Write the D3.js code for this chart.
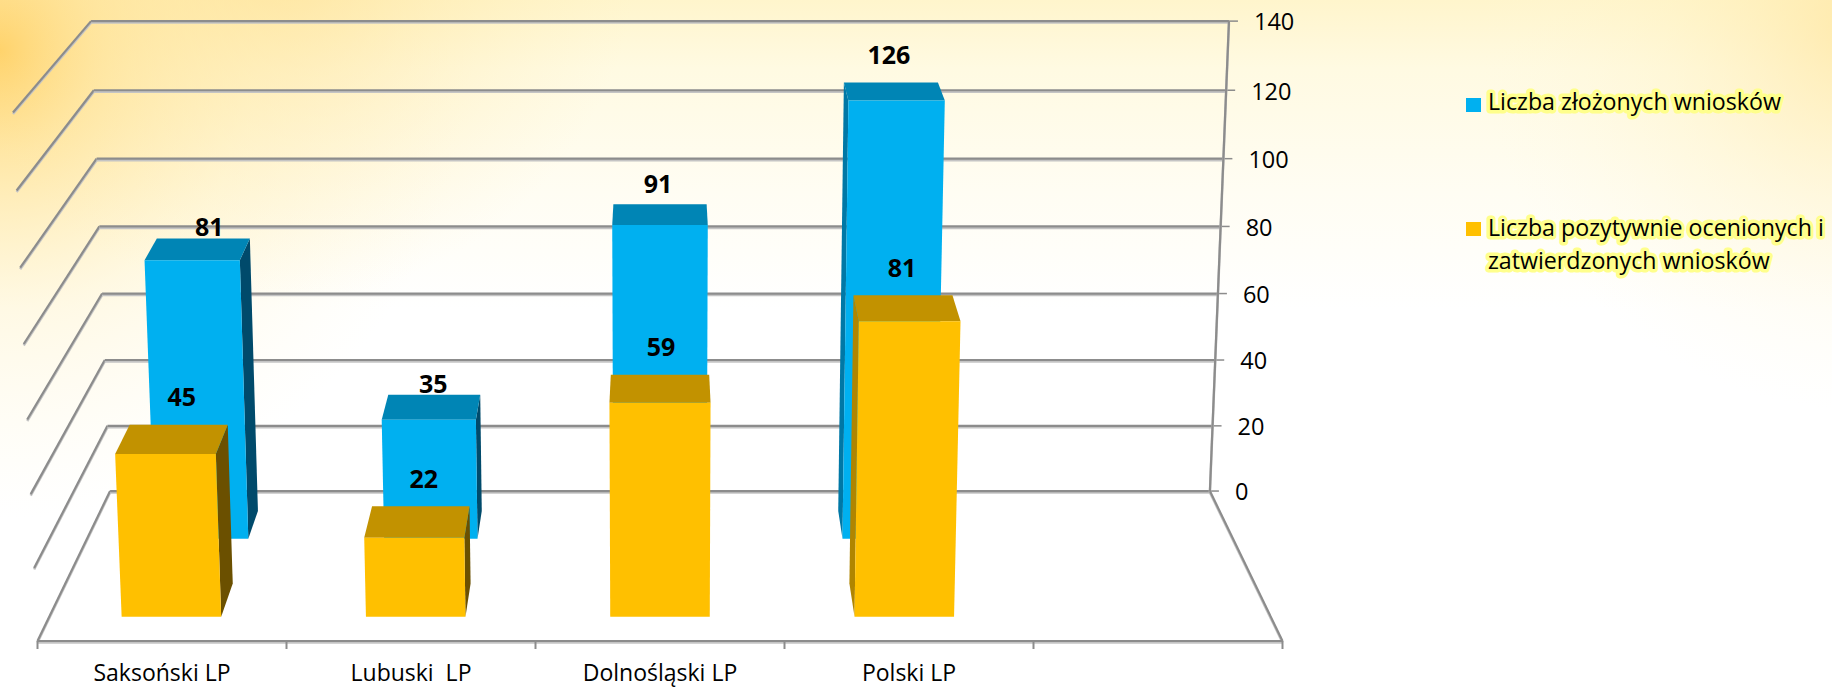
<!DOCTYPE html>
<html lang="pl">
<head>
<meta charset="utf-8">
<script src="https://cdnjs.cloudflare.com/ajax/libs/d3/7.8.5/d3.min.js"></script>
<style>
html,body{margin:0;padding:0;background:#fff;overflow:hidden}
svg{display:block}
text{font-family:"Open Sans",Lato,sans-serif;fill:#000;white-space:pre}
</style>
</head>
<body>
<svg id="c" width="1832" height="688"></svg>
<script>
// ---- data ----
const categories = ["Saksoński LP", "Lubuski  LP", "Dolnośląski LP", "Polski LP"];
const blankSlot = " ";
const submitted = [81, 35, 91, 126];
const approved = [45, 22, 59, 81];
const valueTicks = [0, 20, 40, 60, 80, 100, 120, 140];
const legendSubmitted = ["Liczba złożonych wniosków"];
const legendApproved = ["Liczba pozytywnie ocenionych i", "zatwierdzonych wniosków"];

// ---- projection: slots across (u), value up (t), depth back (d) ----
const W = 1832, H = 688;
const uScale = d3.scaleBand().domain([...categories, blankSlot]).range([-1, 1]);
const tScale = d3.scaleLinear().domain([0, 140]).range([0, 1]);
const cx = 660, vanishY = -645, halfFront = 622.5, floorDrop = 1286, topRise = 557.2;
function project(u, value, d) {
  const t = tScale(value);
  const w = 1 + 0.132 * d - 0.0379 * t;
  return [cx + halfFront * u / w, vanishY + (floorDrop - topRise * t) / w];
}
const barHalf = uScale.bandwidth() * 0.2037;
const rows = {
  submitted: { front: 0.655, back: 0.852, face: "#00B0F0", top: "#0085B5", dark: "#004A6B", lit: "#0078A6" },
  approved: { front: 0.146, back: 0.355, face: "#FFC000", top: "#C29200", dark: "#6B5000", lit: "#B08500" }
};
// hand-placed label shifts, as in the original chart
const nudgeSubmitted = [[6, -9], [-1, -8], [-2, -18], [-2, -25]];
const nudgeApproved = [[3, -25], [3, -25], [1, -25], [-1, -25]];

const svg = d3.select("#c");
const defs = svg.append("defs");
function radial(id, fx, fy, r, stops) {
  const g = defs.append("radialGradient").attr("id", id).attr("gradientUnits", "userSpaceOnUse")
    .attr("cx", fx).attr("cy", fy).attr("r", r);
  stops.forEach(s => g.append("stop").attr("offset", s[0]).attr("stop-color", s[1]).attr("stop-opacity", s[2]));
}
const lin = defs.append("linearGradient").attr("id", "bgTop").attr("x1", 0).attr("y1", 0).attr("x2", 0).attr("y2", 1);
[[0, "#FFF5CC", 1], [0.1, "#FFFAE2", 1], [0.28, "#FFFDF3", 1], [0.45, "#FFFFFF", 1], [1, "#FFFFFF", 1]]
  .forEach(s => lin.append("stop").attr("offset", s[0]).attr("stop-color", s[1]).attr("stop-opacity", s[2]));
radial("bgLeft", 0, 50, 470, [[0, "#FFD064", 1], [0.22, "#FFE08E", 0.75], [0.55, "#FFF0BC", 0.4], [1, "#FFF8DC", 0]]);
radial("bgTop2", 280, -60, 360, [[0, "#FFDC84", 0.65], [1, "#FFEEB5", 0]]);
radial("bgRight", 1860, 30, 380, [[0, "#FFE49A", 0.7], [0.5, "#FFF1C0", 0.35], [1, "#FFF8DC", 0]]);
["bgTop", "bgLeft", "bgTop2", "bgRight"].forEach(id =>
  svg.append("rect").attr("width", W).attr("height", H).attr("fill", `url(#${id})`));

const line = d3.line();
function stroke(g, pts, color, width) {
  g.append("path").attr("d", line(pts)).attr("fill", "none").attr("stroke", color).attr("stroke-width", width);
}
function greyLine(g, a, b) {
  stroke(g, [[a[0], a[1] + 1.5], [b[0], b[1] + 1.5]], "#C4C4C4", 2.5);
  stroke(g, [a, b], "#8C8C8C", 2.2);
}

// walls and floor
const grid = svg.append("g");
valueTicks.forEach(v => {
  const bl = project(-1, v, 1), br = project(1, v, 1), fl = project(-1, v, 0);
  greyLine(grid, fl, bl);
  greyLine(grid, bl, br);
  stroke(grid, [br, [br[0] + 9, br[1]]], "#8C8C8C", 1.5);
  grid.append("text").attr("x", br[0] + 25).attr("y", br[1] + 3)
    .attr("dominant-baseline", "middle").attr("font-size", 23.5).text(v);
});
greyLine(grid, project(1, 0, 1), project(1, 140, 1));
greyLine(grid, project(1, 0, 1), project(1, 0, 0));
greyLine(grid, project(-1, 0, 0), project(1, 0, 0));
[...categories, blankSlot].forEach(c => {
  const u = uScale(c);
  const p = project(u, 0, 0);
  stroke(grid, [p, [p[0], p[1] + 8]], "#8C8C8C", 2);
  if (c === blankSlot) { const e = project(1, 0, 0); stroke(grid, [e, [e[0], e[1] + 8]], "#8C8C8C", 2); return; }
  const m = project(u + uScale.bandwidth() / 2, 0, 0);
  grid.append("text").attr("x", m[0]).attr("y", 675).attr("text-anchor", "middle")
    .attr("dominant-baseline", "middle").attr("font-size", 23).text(c);
});

// bars, back row first
function drawRow(values, row) {
  const g = svg.append("g");
  values.forEach((v, i) => {
    const mid = uScale(categories[i]) + uScale.bandwidth() / 2;
    const l = mid - barHalf, r = mid + barHalf;
    const P = (u, val, d) => project(u, val, d);
    const poly = (pts, fill) => g.append("polygon").attr("points", pts.map(p => p.join(",")).join(" "))
      .attr("fill", fill);
    // the side that faces the viewer
    if (P(r, 0, row.back)[0] > P(r, 0, row.front)[0] + 1)
      poly([P(r, v, row.front), P(r, v, row.back), P(r, 0, row.back), P(r, 0, row.front)], row.dark);
    if (P(l, 0, row.back)[0] < P(l, 0, row.front)[0] - 1)
      poly([P(l, v, row.front), P(l, v, row.back), P(l, 0, row.back), P(l, 0, row.front)], row.lit);
    poly([P(l, v, row.front), P(l, v, row.back), P(r, v, row.back), P(r, v, row.front)], row.top);
    poly([P(l, v, row.front), P(r, v, row.front), P(r, 0, row.front), P(l, 0, row.front)], row.face);
  });
}
drawRow(submitted, rows.submitted);
drawRow(approved, rows.approved);

// value labels
function drawLabels(values, row, nudges) {
  values.forEach((v, i) => {
    const mid = uScale(categories[i]) + uScale.bandwidth() / 2;
    const p = project(mid, v, row.back);
    svg.append("text").attr("x", p[0] + nudges[i][0]).attr("y", p[1] + nudges[i][1])
      .attr("text-anchor", "middle").attr("dominant-baseline", "middle")
      .attr("font-size", 25).attr("font-weight", 700).text(v);
  });
}
drawLabels(submitted, rows.submitted, nudgeSubmitted);
drawLabels(approved, rows.approved, nudgeApproved);

// legend
function legendEntry(lines, color, swatchY, lineYs) {
  svg.append("rect").attr("x", 1466).attr("y", swatchY).attr("width", 15).attr("height", 14).attr("fill", color);
  lines.forEach((t, i) => {
    svg.append("text").attr("x", 1488).attr("y", lineYs[i]).attr("dominant-baseline", "middle")
      .attr("font-size", 23.2).attr("stroke", "#FFFF8C").attr("stroke-width", 7).attr("stroke-linejoin", "round")
      .attr("paint-order", "stroke").text(t);
  });
}
legendEntry(legendSubmitted, rows.submitted.face, 98, [104]);
legendEntry(legendApproved, rows.approved.face, 222, [230, 263]);
</script>
</body>
</html>
